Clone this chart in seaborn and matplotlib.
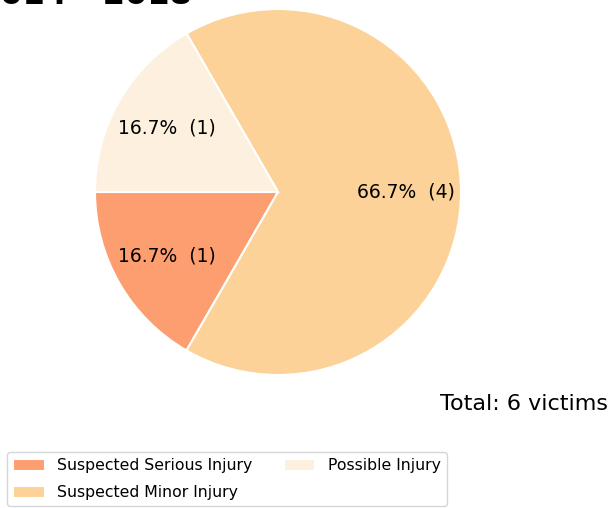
import matplotlib
matplotlib.use("Agg")
import matplotlib.pyplot as plt
import seaborn as sns

# --- data ---
severity = ["Suspected Serious Injury", "Suspected Minor Injury", "Possible Injury"]
victims = [1, 4, 1]
colors = ["#fc9e70", "#fcd298", "#fdf0de"]
year_span = "2014 - 2018"

sns.set_theme(style="white", rc={"text.color": "black"})
plt.rcParams["font.family"] = ["DejaVu Sans"]

total = sum(victims)


def fmt_pct(pct):
    count = int(round(pct * total / 100.0))
    return f"{pct:.1f}%  ({count})"


fig = plt.figure(figsize=(6.12, 5.08), dpi=100)
ax = fig.add_axes([95 / 612, 133 / 508, 366 / 612, 366 / 508])

wedges, texts, autotexts = ax.pie(
    victims,
    colors=colors,
    startangle=180,
    counterclock=True,
    autopct=fmt_pct,
    pctdistance=0.7,
    wedgeprops=dict(edgecolor="white", linewidth=1.5),
    textprops=dict(fontsize=13.5, color="black"),
)
ax.set_xlim(-1, 1)
ax.set_ylim(-1, 1)
ax.set_aspect("equal")

# title sits mostly above the canvas in the reference
fig.text(-22 / 612, 504 / 508, year_span, fontsize=23, fontweight="bold",
         ha="left", va="baseline", color="black")

fig.text(608 / 612, 1 - 404 / 508, f"Total: {total} victims", fontsize=16,
         ha="right", va="center", color="black")

leg = ax.legend(wedges, severity, ncol=2, fontsize=11.3,
                loc="upper left", bbox_to_anchor=(7 / 612, 1 - 452 / 508),
                bbox_transform=fig.transFigure, borderaxespad=0, frameon=True,
                handlelength=2.0, handleheight=0.8, labelspacing=0.75,
                columnspacing=2.0)
for t in leg.get_texts():
    t.set_color("black")

fig.savefig("out.png", dpi=100)
